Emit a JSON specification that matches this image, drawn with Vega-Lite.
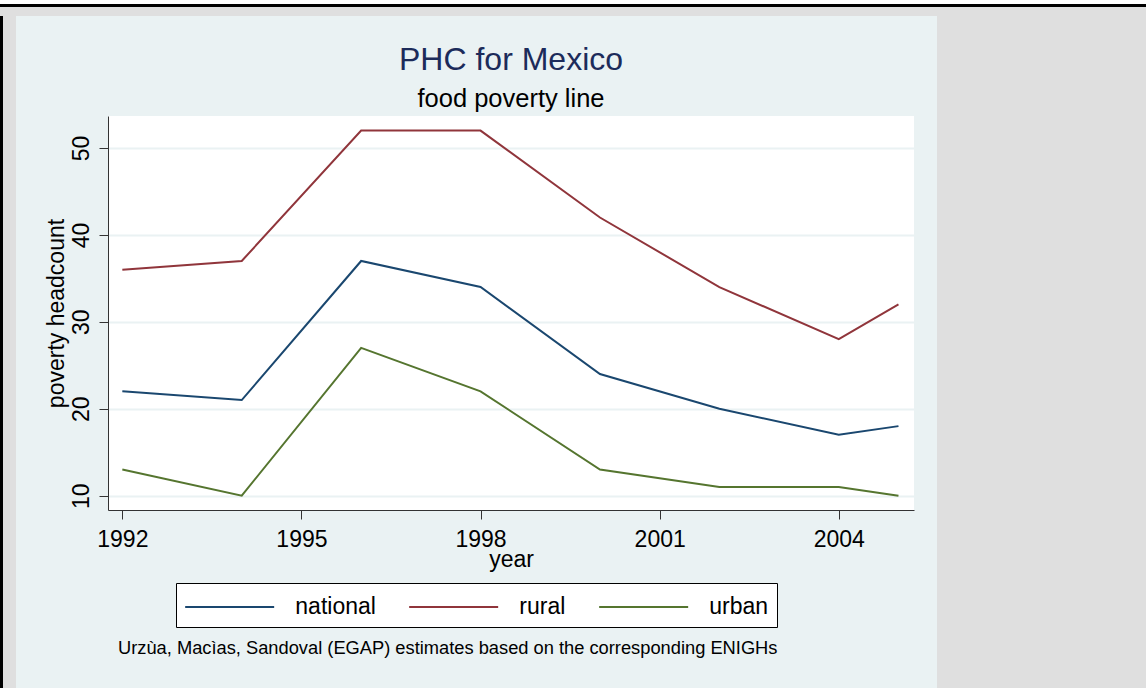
{
  "$schema": "https://vega.github.io/schema/vega-lite/v6.json",
  "background": "#eaf2f3",
  "padding": 0,
  "spacing": 0,
  "config": {"font": "Liberation Sans", "view": {"stroke": null}},
  "datasets": {
    "phc": [
      {"year": 1992, "area": "national", "phc": 22},
      {"year": 1994, "area": "national", "phc": 21},
      {"year": 1996, "area": "national", "phc": 37},
      {"year": 1998, "area": "national", "phc": 34},
      {"year": 2000, "area": "national", "phc": 24},
      {"year": 2002, "area": "national", "phc": 20},
      {"year": 2004, "area": "national", "phc": 17},
      {"year": 2005, "area": "national", "phc": 18},
      {"year": 1992, "area": "rural", "phc": 36},
      {"year": 1994, "area": "rural", "phc": 37},
      {"year": 1996, "area": "rural", "phc": 52},
      {"year": 1998, "area": "rural", "phc": 52},
      {"year": 2000, "area": "rural", "phc": 42},
      {"year": 2002, "area": "rural", "phc": 34},
      {"year": 2004, "area": "rural", "phc": 28},
      {"year": 2005, "area": "rural", "phc": 32},
      {"year": 1992, "area": "urban", "phc": 13},
      {"year": 1994, "area": "urban", "phc": 10},
      {"year": 1996, "area": "urban", "phc": 27},
      {"year": 1998, "area": "urban", "phc": 22},
      {"year": 2000, "area": "urban", "phc": 13},
      {"year": 2002, "area": "urban", "phc": 11},
      {"year": 2004, "area": "urban", "phc": 11},
      {"year": 2005, "area": "urban", "phc": 10}
    ],
    "empty": []
  },
  "vconcat": [
    {"width": 1146, "height": 4, "data": {"name": "empty"}, "mark": {"type": "point", "opacity": 0}, "view": {"fill": "#ffffff", "stroke": null}},
    {"width": 1146, "height": 3, "data": {"name": "empty"}, "mark": {"type": "point", "opacity": 0}, "view": {"fill": "#000000", "stroke": null}},
    {"width": 1146, "height": 9, "data": {"name": "empty"}, "mark": {"type": "point", "opacity": 0}, "view": {"fill": "#dfdfdf", "stroke": null}},
    {
      "spacing": 28,
      "hconcat": [
        {
          "spacing": 0,
          "hconcat": [
            {"width": 3, "height": 672, "data": {"name": "empty"}, "mark": {"type": "point", "opacity": 0}, "view": {"fill": "#000000", "stroke": null}},
            {"width": 13, "height": 672, "data": {"name": "empty"}, "mark": {"type": "point", "opacity": 0}, "view": {"fill": "#dfdfdf", "stroke": null}}
          ]
        },
        {
          "spacing": 23,
          "hconcat": [
            {
              "spacing": 0,
              "resolve": {"scale": {"color": "independent"}, "legend": {"color": "independent"}},
              "title": {"text": "Urzùa, Macìas, Sandoval (EGAP) estimates based on the corresponding ENIGHs", "orient": "bottom", "anchor": "start", "frame": "bounds", "fontSize": 18.3, "fontWeight": "normal", "color": "#000000", "dx": 73, "offset": 12},
              "vconcat": [
                {"width": 1, "height": 27, "data": {"name": "empty"}, "mark": {"type": "point", "opacity": 0}, "view": {"fill": null, "stroke": null}},
                {
                  "width": 806,
                  "height": 394,
                  "view": {"fill": "#ffffff", "stroke": null},
                  "title": {"text": "PHC for Mexico", "subtitle": "food poverty line", "anchor": "middle", "fontSize": 32, "fontWeight": "normal", "color": "#1c2b5a", "subtitleFontSize": 25.5, "subtitleColor": "#000000", "subtitlePadding": 10, "offset": 3},
                  "data": {"name": "phc"},
                  "mark": {"type": "line", "strokeWidth": 2},
                  "encoding": {
                    "x": {"field": "year", "type": "quantitative",
                      "scale": {"domain": [1991.76, 2005.26], "nice": false, "zero": false},
                      "axis": {"values": [1992, 1995, 1998, 2001, 2004], "format": "d", "title": "year", "grid": false, "labelFontSize": 23, "titleFontSize": 23, "titleFontWeight": "normal", "labelPadding": 9, "titlePadding": -3, "tickSize": 9, "tickColor": "#333333", "domainColor": "#333333", "labelColor": "#000000", "titleColor": "#000000", "labelFlush": false}},
                    "y": {"field": "phc", "type": "quantitative",
                      "scale": {"domain": [8.35, 53.68], "nice": false, "zero": false},
                      "axis": {"values": [10, 20, 30, 40, 50], "title": "poverty headcount", "labelAngle": -90, "labelFontSize": 23, "titleFontSize": 23, "titleFontWeight": "normal", "gridColor": "#eaf2f3", "gridWidth": 2, "tickSize": 9, "tickColor": "#333333", "domainColor": "#333333", "labelColor": "#000000", "titleColor": "#000000", "labelPadding": 6, "titlePadding": 2}},
                    "color": {"field": "area", "type": "nominal",
                      "scale": {"domain": ["national", "rural", "urban"], "range": ["#1a476f", "#90353b", "#55752f"]},
                      "legend": {"title": null, "orient": "none", "legendX": 68, "legendY": 467, "direction": "horizontal", "symbolType": "M-1,0L5,0", "symbolSize": 880, "symbolStrokeWidth": 2, "labelFontSize": 23, "labelOffset": 79.3, "columnPadding": 29, "padding": 8, "strokeColor": "#000000", "fillColor": "#ffffff", "cornerRadius": 0, "labelColor": "#000000"}}
                  }
                }
              ]
            },
            {"width": 209, "height": 672, "data": {"name": "empty"}, "mark": {"type": "point", "opacity": 0}, "view": {"fill": "#dfdfdf", "stroke": null}}
          ]
        }
      ]
    }
  ]
}
